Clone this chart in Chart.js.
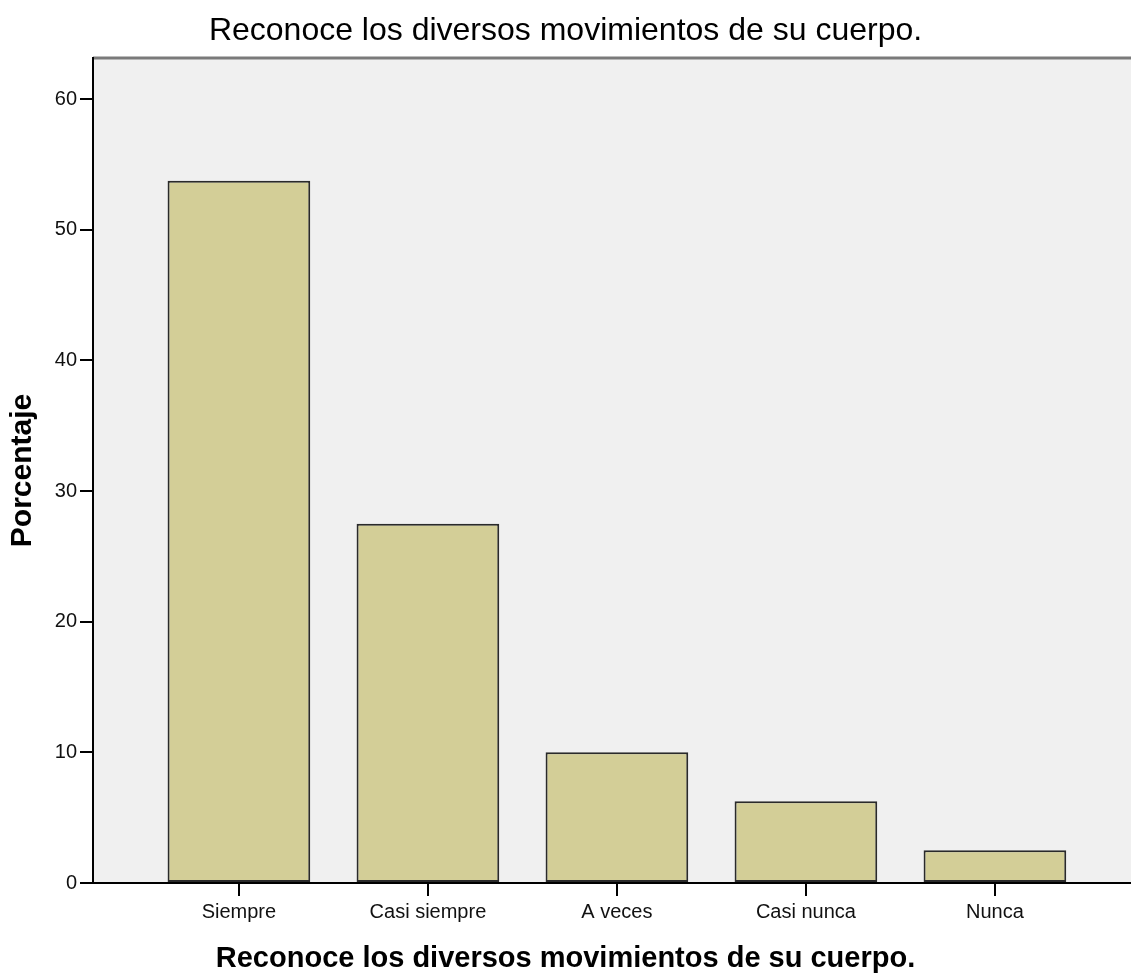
<!DOCTYPE html>
<html>
<head>
<meta charset="utf-8">
<script src="https://cdn.jsdelivr.net/npm/chart.js@4.4.1/dist/chart.umd.min.js"></script>
<style>
  body { margin: 0; background: #fff; }
  #wrap { width: 1131px; height: 974px; }
</style>
</head>
<body>
<div id="wrap"><canvas id="chart"></canvas></div>
<script>
const categories = ["Siempre", "Casi siempre", "A veces", "Casi nunca", "Nunca"];
const percentages = [53.75, 27.5, 10, 6.25, 2.5];
const yTicks = [0, 10, 20, 30, 40, 50, 60];

const chartTitle = "Reconoce los diversos movimientos de su cuerpo.";
const fontFamily = "'Liberation Sans', Arial, sans-serif";

// plot background and the grey top frame line
const plotFrame = {
  id: "plotFrame",
  beforeDraw(chart) {
    const { ctx, chartArea: a } = chart;
    ctx.save();
    ctx.fillStyle = "#f0f0f0";
    ctx.fillRect(a.left, a.top, a.right - a.left, a.bottom - a.top);
    ctx.strokeStyle = "#7a7a7a";
    ctx.lineWidth = 3;
    ctx.beginPath();
    ctx.moveTo(a.left, a.top);
    ctx.lineTo(a.right, a.top);
    ctx.stroke();
    ctx.restore();
  }
};

const chart = new Chart(document.getElementById("chart"), {
  type: "bar",
  data: {
    datasets: [{
      label: "Porcentaje",
      data: percentages.map((v, i) => ({ x: i, y: v })),
      backgroundColor: "#d3ce97",
      borderColor: "#2a2a2a",
      borderWidth: 2,
      borderSkipped: false,
      categoryPercentage: 1,
      barPercentage: 0.755
    }]
  },
  options: {
    responsive: true,
    maintainAspectRatio: false,
    animation: false,
    devicePixelRatio: 1,
    layout: { padding: 0 },
    plugins: {
      legend: { display: false },
      tooltip: { enabled: false },
      title: {
        display: true,
        text: chartTitle,
        color: "#000",
        font: { family: fontFamily, size: 32, weight: "normal", lineHeight: 1.2 },
        padding: { top: 12, bottom: 7.6 }
      },
      subtitle: {
        display: true,
        position: "bottom",
        text: chartTitle,
        color: "#000",
        font: { family: fontFamily, size: 29, weight: "bold", lineHeight: 1 },
        padding: { top: 0, bottom: 1 }
      }
    },
    scales: {
      x: {
        type: "linear",
        offset: false,
        min: -0.772,
        max: 4.72,
        afterBuildTicks: (s) => { s.ticks = categories.map((c, i) => ({ value: i })); },
        afterFit: (s) => { s.height = 61; },
        ticks: {
          color: "#111",
          font: { family: fontFamily, size: 20 },
          padding: 4,
          callback: (v) => categories[v]
        },
        grid: { offset: false, drawOnChartArea: false, drawTicks: true, tickLength: 13, color: "#000", lineWidth: 2 },
        border: { display: true, color: "#000", width: 2 }
      },
      y: {
        min: 0,
        max: 63.15,
        afterBuildTicks: (s) => { s.ticks = yTicks.map(v => ({ value: v })); },
        afterFit: (s) => { s.width = 93; },
        ticks: {
          color: "#111",
          font: { family: fontFamily, size: 20 },
          padding: 3
        },
        grid: { drawOnChartArea: false, drawTicks: true, tickLength: 13, color: "#000", lineWidth: 2 },
        border: { display: true, color: "#000", width: 2 },
        title: {
          display: true,
          text: "Porcentaje",
          color: "#000",
          font: { family: fontFamily, size: 30, weight: "bold", lineHeight: 1.2 },
          padding: { top: 5, bottom: 0 }
        }
      }
    }
  },
  plugins: [plotFrame]
});
</script>
</body>
</html>
